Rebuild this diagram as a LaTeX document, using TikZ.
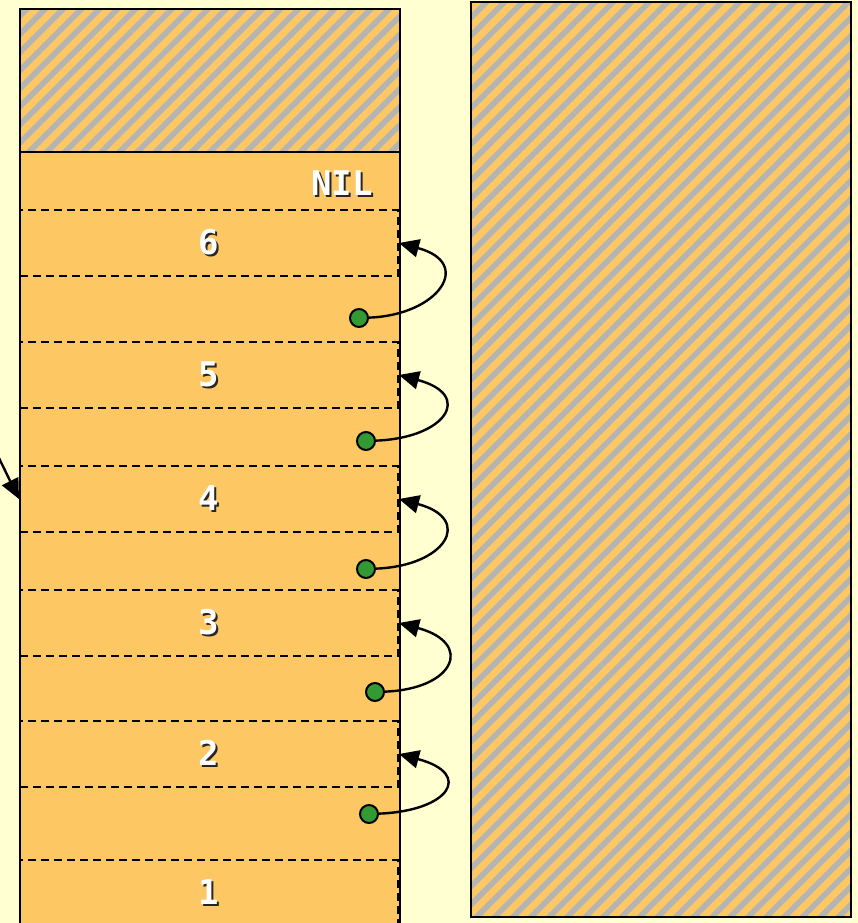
\documentclass[tikz,border=0pt]{standalone}
\usepackage{fontspec}
\setmonofont{DejaVu Sans Mono}
\usepackage{tikz}
\usetikzlibrary{arrows.meta, patterns.meta}

\definecolor{paper}{HTML}{FFFFD2}
\definecolor{stackorange}{HTML}{FDC864}
\definecolor{hatchgray}{HTML}{B4B4B4}
\definecolor{dotgreen}{HTML}{339933}

\newcommand\shtxt[1]{\makebox[0pt][l]{\hspace*{2pt}\raisebox{-2pt}{\textcolor{black!85}{#1}}}\textcolor{white}{#1}}

\tikzset{
  hatched/.style={draw, line width=2.4pt, preaction={fill=stackorange},
    pattern={Lines[angle=45,distance=12.8pt,line width=5.6pt]}, pattern color=hatchgray},
  slot/.style={draw, dashed, dash pattern=on 8pt off 5pt, line width=2pt,
    minimum width=378pt, minimum height=66pt, inner sep=0pt,
    font=\ttfamily\bfseries\fontsize{34}{34}\selectfont},
  dot/.style={circle, draw, line width=2pt, fill=dotgreen, minimum size=18pt, inner sep=0pt},
  link/.style={->, line width=2.4pt}
}

\begin{document}
\begin{tikzpicture}[x=1pt, y=-1pt, >={Triangle[length=20pt,width=18pt]}]
        \useasboundingbox [fill=paper] (0,0) rectangle (858,923);
        % Stack frame
        \draw [hatched] (20,9) rectangle (400,152);
        \draw [line width=2.4pt, fill=stackorange] (20,152) rectangle (400,935);
        \node [font=\ttfamily\bfseries\fontsize{34}{34}\selectfont] (nil) at (342,184) {\shtxt{NIL}};
        
        % Slots
        \foreach \n/\y in {6/243, 5/375, 4/499, 3/623, 2/754, 1/893}
            \node [slot] (s\n) at (209,\y) {\shtxt{\n}};
        
        % Links
        \foreach \n/\x/\y in {6/359/318, 5/366/441, 4/366/569, 3/375/692, 2/369/814}{
            \node [dot] (d\n) at (\x,\y) {};
            \draw [link] (d\n) .. controls +(80,-3) and +(75,20) .. (s\n.east);
        }
        
        % Incoming pointer
        \coordinate (src) at (-10,440);
        \draw [link] (src) .. controls (5,470) and (12,485) .. (s4.west);
        
        % Heap
        \draw [hatched] (471,2) rectangle (851,917);
    \end{tikzpicture}
\end{document}
